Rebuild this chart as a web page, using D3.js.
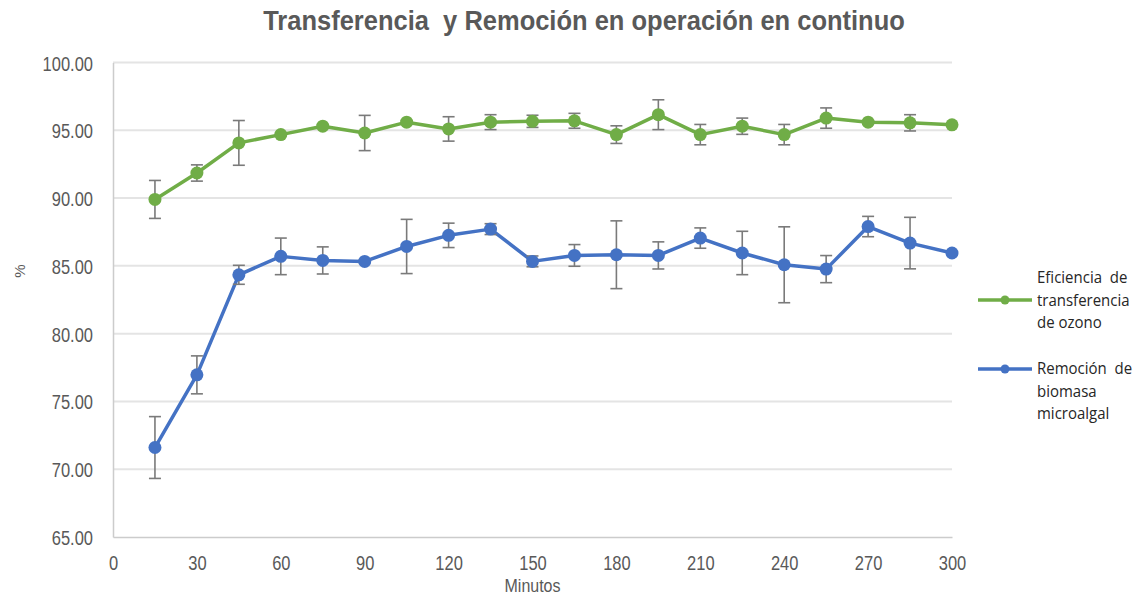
<!DOCTYPE html>
<html>
<head>
<meta charset="utf-8">
<script src="https://cdn.jsdelivr.net/npm/d3@7"></script>
<style>
  html, body { margin: 0; padding: 0; background: #fff; }
  svg { display: block; }
</style>
</head>
<body>
<svg id="chart" width="1141" height="596"></svg>
<script>
// Sampling times (minutes)
const minutes = [15, 30, 45, 60, 75, 90, 105, 120, 135, 150, 165, 180, 195, 210, 225, 240, 255, 270, 285, 300];

// Ozone transfer efficiency (%) and its standard deviation
const transferencia = [89.9, 91.85, 94.07, 94.68, 95.3, 94.8, 95.6, 95.1, 95.6, 95.66, 95.7, 94.68, 96.15, 94.68, 95.3, 94.68, 95.9, 95.6, 95.55, 95.4];
const transferenciaErr = [1.4, 0.6, 1.65, 0.1, 0.1, 1.3, 0.1, 0.9, 0.55, 0.45, 0.55, 0.65, 1.1, 0.75, 0.6, 0.75, 0.75, 0.1, 0.6, 0.1];

// Microalgal biomass removal (%) and its standard deviation
const remocion = [71.6, 76.96, 84.34, 85.7, 85.4, 85.33, 86.43, 87.25, 87.71, 85.33, 85.77, 85.82, 85.77, 87.05, 85.95, 85.08, 84.76, 87.9, 86.68, 85.95];
const remocionErr = [2.28, 1.4, 0.7, 1.35, 1.0, 0.1, 2.0, 0.9, 0.4, 0.4, 0.8, 2.5, 1.0, 0.75, 1.6, 2.8, 1.0, 0.75, 1.9, 0.1];

const xTicks = [0, 30, 60, 90, 120, 150, 180, 210, 240, 270, 300];
const yTicks = [65, 70, 75, 80, 85, 90, 95, 100];

const titleText = "Transferencia  y Remoción en operación en continuo";
const xLabel = "Minutos";
const yLabel = "%";

const series = [
  { lines: ["Eficiencia  de", "transferencia", "de ozono"], values: transferencia, err: transferenciaErr, color: "#70AD47" },
  { lines: ["Remoción  de", "biomasa", "microalgal"], values: remocion, err: remocionErr, color: "#4472C4" }
];

const svg = d3.select("#chart");
const plot = { left: 113, right: 952, top: 62.5, bottom: 537 };

const x = d3.scaleLinear().domain([0, 300]).range([plot.left, plot.right]);
const y = d3.scaleLinear().domain([65, 100]).range([plot.bottom, plot.top]);

const textGray = "#595959";
const stretch = 1.25;

// Horizontal gridlines
svg.append("g")
  .selectAll("line")
  .data(yTicks.filter(d => d !== 65))
  .join("line")
  .attr("x1", plot.left).attr("x2", plot.right)
  .attr("y1", d => y(d)).attr("y2", d => y(d))
  .attr("stroke", "#e4e4e4").attr("stroke-width", 2);

// Y axis
const yAxis = svg.append("g")
  .attr("transform", `translate(${plot.left},0)`)
  .call(d3.axisLeft(y).tickValues(yTicks).tickFormat(d3.format(".2f")).tickSize(0).tickPadding(20));
yAxis.select(".domain").attr("stroke", "#cccccc").attr("stroke-width", 1.5);
yAxis.selectAll("text")
  .attr("dy", null).attr("y", 0)
  .attr("transform", `translate(0,7.5) scale(1,${stretch})`)
  .attr("fill", textGray)
  .style("font-family", "'Liberation Sans', Arial, sans-serif")
  .style("font-size", "16.5px");

// X axis
const xAxis = svg.append("g")
  .attr("transform", `translate(0,${plot.bottom})`)
  .call(d3.axisBottom(x).tickValues(xTicks).tickFormat(d3.format("d")).tickSize(0));
xAxis.select(".domain").attr("stroke", "#cccccc").attr("stroke-width", 1.5);
xAxis.selectAll("text")
  .attr("dy", null).attr("y", 0)
  .attr("transform", `translate(0,33) scale(1,${stretch})`)
  .attr("fill", textGray)
  .style("font-family", "'Liberation Sans', Arial, sans-serif")
  .style("font-size", "16.5px");

// Title
svg.append("text")
  .attr("transform", `translate(584,30) scale(1,1.06)`)
  .attr("text-anchor", "middle")
  .attr("fill", textGray)
  .style("font-family", "'Liberation Sans', Arial, sans-serif")
  .style("font-weight", "bold")
  .style("font-size", "25.5px")
  .style("white-space", "pre")
  .text(titleText);

// Axis titles
svg.append("text")
  .attr("transform", `translate(${(plot.left + plot.right) / 2},592) scale(1,1.15)`)
  .attr("text-anchor", "middle")
  .attr("fill", textGray)
  .style("font-family", "'Liberation Sans', Arial, sans-serif")
  .style("font-size", "16px")
  .text(xLabel);

svg.append("text")
  .attr("transform", `translate(25,271) rotate(-90)`)
  .attr("text-anchor", "middle")
  .attr("fill", textGray)
  .style("font-family", "'Liberation Sans', Arial, sans-serif")
  .style("font-size", "15px")
  .text(yLabel);

// Series: lines, error bars, markers
const line = d3.line().x((d, i) => x(minutes[i])).y(d => y(d));

series.forEach(s => {
  const g = svg.append("g");
  g.append("path")
    .datum(s.values)
    .attr("d", line)
    .attr("fill", "none")
    .attr("stroke", s.color)
    .attr("stroke-width", 3.5)
    .attr("stroke-linejoin", "round");

  const eb = g.append("g").selectAll("g")
    .data(s.values.map((v, i) => ({ t: minutes[i], v, e: s.err[i] })))
    .join("g")
    .attr("stroke", "#7a7a7a")
    .attr("stroke-width", 1.6);
  eb.append("line")
    .attr("x1", d => x(d.t)).attr("x2", d => x(d.t))
    .attr("y1", d => y(d.v - d.e)).attr("y2", d => y(d.v + d.e));
  eb.append("line")
    .attr("x1", d => x(d.t) - 6).attr("x2", d => x(d.t) + 6)
    .attr("y1", d => y(d.v + d.e)).attr("y2", d => y(d.v + d.e));
  eb.append("line")
    .attr("x1", d => x(d.t) - 6).attr("x2", d => x(d.t) + 6)
    .attr("y1", d => y(d.v - d.e)).attr("y2", d => y(d.v - d.e));

  g.append("g").selectAll("circle")
    .data(s.values)
    .join("circle")
    .attr("cx", (d, i) => x(minutes[i]))
    .attr("cy", d => y(d))
    .attr("r", 6.5)
    .attr("fill", s.color);
});

// Legend
const legend = svg.append("g");
const legendRows = [{ y: 300 }, { y: 369 }];
series.forEach((s, k) => {
  const ly = legendRows[k].y;
  const lg = legend.append("g");
  lg.append("line")
    .attr("x1", 978).attr("x2", 1032)
    .attr("y1", ly).attr("y2", ly)
    .attr("stroke", s.color).attr("stroke-width", 3.5);
  lg.append("circle")
    .attr("cx", 1005).attr("cy", ly).attr("r", 4.5)
    .attr("fill", s.color);
  const startY = k === 0 ? ly - 17 : ly + 5;
  s.lines.forEach((t, j) => {
    lg.append("text")
      .attr("transform", `translate(1037,${startY + j * 22.5}) scale(1,1.1)`)
      .attr("fill", "#262626")
      .style("font-family", "'Open Sans', 'Liberation Sans', sans-serif")
      .style("font-size", "15px")
      .style("white-space", "pre")
      .text(t);
  });
});
</script>
</body>
</html>
